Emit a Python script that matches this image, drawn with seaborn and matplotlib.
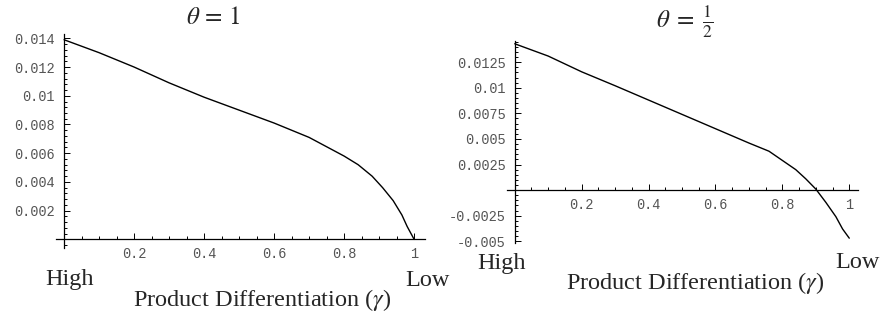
import numpy as np
import pandas as pd
import matplotlib
matplotlib.use('Agg')
import matplotlib.pyplot as plt
import seaborn as sns
from matplotlib.ticker import FixedLocator, MultipleLocator

sns.set_style('white')
matplotlib.rcParams['mathtext.fontset'] = 'stix'
matplotlib.rcParams['font.family'] = ['Liberation Serif', 'DejaVu Sans']

# theta = 1
gamma_1 = [0.0, 0.1, 0.2, 0.3, 0.4, 0.5, 0.6, 0.7, 0.8, 0.84, 0.88, 0.91, 0.94, 0.965, 0.98, 1.0]
profit_1 = [0.0139, 0.0130, 0.0120, 0.0109, 0.0099, 0.0090, 0.0081, 0.0071, 0.0058,
            0.0052, 0.0044, 0.0036, 0.0027, 0.0017, 0.0009, 0.0]
# theta = 1/2
gamma_2 = [0.0, 0.05, 0.1, 0.2, 0.3, 0.4, 0.5, 0.6, 0.7, 0.76, 0.8, 0.84, 0.87, 0.9,
           0.93, 0.96, 0.98, 1.0]
profit_2 = [0.0143, 0.0137, 0.0131, 0.01156, 0.0102, 0.0088, 0.0074, 0.0060, 0.0046,
            0.0038, 0.0029, 0.0020, 0.0011, 0.0001, -0.0012, -0.0026, -0.0038, -0.0047]

x_ticks = [0.2, 0.4, 0.6, 0.8, 1.0]
x_labels = ['0.2', '0.4', '0.6', '0.8', '1']
y_ticks_1 = [0.002, 0.004, 0.006, 0.008, 0.010, 0.012, 0.014]
y_labels_1 = ['0.002', '0.004', '0.006', '0.008', '0.01', '0.012', '0.014']
y_ticks_2 = [-0.005, -0.0025, 0.0025, 0.005, 0.0075, 0.010, 0.0125]
y_labels_2 = ['-0.005', '-0.0025', '0.0025', '0.005', '0.0075', '0.01', '0.0125']

df1 = pd.DataFrame({'gamma': gamma_1, 'profit': profit_1})
df2 = pd.DataFrame({'gamma': gamma_2, 'profit': profit_2})

fig = plt.figure(figsize=(8.82, 3.17), dpi=100)
ax1 = fig.add_axes([56 / 882, 69 / 317, 369 / 882, 214 / 317])
ax2 = fig.add_axes([506.7 / 882, 73.7 / 317, 351.6 / 882, 202.6 / 317])


def style_axis(ax, xlim, ylim, yt, yl, yminor):
    ax.set_facecolor('none')
    ax.set_xlim(*xlim)
    ax.set_ylim(*ylim)
    for s in ['top', 'right']:
        ax.spines[s].set_visible(False)
    ax.spines['left'].set_position(('data', 0))
    ax.spines['bottom'].set_position(('data', 0))
    for s in ['left', 'bottom']:
        ax.spines[s].set_color('black')
        ax.spines[s].set_linewidth(0.9)
    ax.xaxis.set_major_locator(FixedLocator(x_ticks))
    ax.set_xticklabels(x_labels)
    ax.xaxis.set_minor_locator(MultipleLocator(0.05))
    ax.yaxis.set_major_locator(FixedLocator(yt))
    ax.set_yticklabels(yl)
    ax.yaxis.set_minor_locator(MultipleLocator(yminor))
    ax.tick_params(which='both', direction='in', color='black', width=0.7,
                   bottom=True, left=True)
    ax.tick_params(which='major', length=4)
    ax.tick_params(which='minor', length=2)
    ax.tick_params(axis='x', which='major', pad=5.5)
    ax.tick_params(axis='y', which='major', pad=6.5)
    for lab in ax.get_xticklabels() + ax.get_yticklabels():
        lab.set_family('Liberation Mono')
        lab.set_fontsize(9.8)
        lab.set_color('#555555')
    ax.set_xlabel('')
    ax.set_ylabel('')


sns.lineplot(data=df1, x='gamma', y='profit', ax=ax1, color='black', linewidth=1.0)
sns.lineplot(data=df2, x='gamma', y='profit', ax=ax2, color='black', linewidth=1.0)

style_axis(ax1, (-0.023, 1.031), (-0.0006, 0.0143), y_ticks_1, y_labels_1, 0.0004)
style_axis(ax2, (-0.024, 1.027), (-0.0052, 0.0146), y_ticks_2, y_labels_2, 0.0005)

# titles
fig.text(213 / 882, 1 - 18 / 317, r'$\theta\,=\,1$', ha='center', va='center', fontsize=18)
fig.text(685 / 882, 1 - 22 / 317, r'$\theta\;=\;\frac{1}{2}$', ha='center', va='center', fontsize=18)

# bottom annotations
lab_kw = dict(va='center', fontsize=17.5, family='Liberation Serif')
fig.text(45 / 882, 1 - 280 / 317, 'High', ha='left', **lab_kw)
fig.text(405 / 882, 1 - 280 / 317, 'Low', ha='left', **lab_kw)
fig.text(262 / 882, 1 - 300 / 317, r'Product Differentiation ($\gamma$)', ha='center', **lab_kw)
fig.text(477 / 882, 1 - 263 / 317, 'High', ha='left', **lab_kw)
fig.text(880 / 882, 1 - 263 / 317, 'Low', ha='right', **lab_kw)
fig.text(695 / 882, 1 - 283 / 317, r'Product Differentiation ($\gamma$)', ha='center', **lab_kw)

fig.savefig('out.png', dpi=100)
